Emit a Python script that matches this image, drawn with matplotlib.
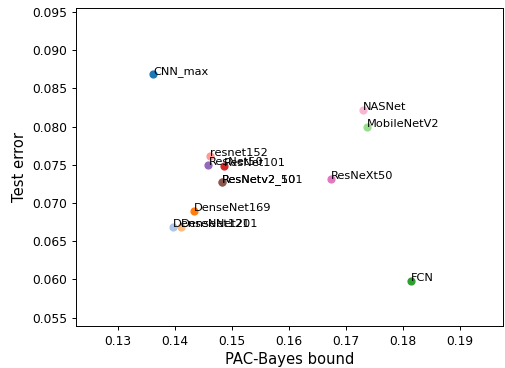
import numpy as np
import matplotlib.pyplot as plt

# PAC-Bayes bound vs. test error for each trained network
models = ["CNN_max", "DenseNet121", "DenseNet169", "DenseNet201", "FCN",
          "MobileNetV2", "ResNet101", "resnet152", "ResNet50",
          "ResNetv2_101", "ResNetv2_50", "ResNeXt50", "NASNet"]
bound = [0.1362, 0.1397, 0.1434, 0.1411, 0.1813,
         0.1736, 0.1486, 0.1461, 0.1459,
         0.1482, 0.1482, 0.1674, 0.1729]
test_err = [0.0869, 0.0669, 0.0690, 0.0668, 0.0598,
            0.0800, 0.0748, 0.0761, 0.0750,
            0.0728, 0.0728, 0.0732, 0.0822]
colors = ["#1f77b4", "#aec7e8", "#ff7f0e", "#ffbb78", "#2ca02c",
          "#98df8a", "#d62728", "#ff9896", "#9467bd",
          "#c49c94", "#8c564b", "#e377c2", "#f7b6d2"]

xt = np.arange(0.13, 0.195, 0.01)
yt = np.arange(0.055, 0.0951, 0.005)

fig = plt.figure(figsize=(5.05, 3.68), dpi=100)
ax = fig.add_axes([0.1505, 0.114, 0.8455, 0.864])

for name, x, y, c in zip(models, bound, test_err, colors):
    ax.scatter(x, y, s=24, color=c, zorder=2)
    ax.text(x, y, name, fontsize=8.2, zorder=3)

ax.set_xlim(0.1227, 0.1975)
ax.set_ylim(0.0539, 0.0955)
ax.set_xticks(xt)
ax.set_yticks(yt)
ax.set_xticklabels(["%.2f" % v for v in xt])
ax.set_yticklabels(["%.3f" % v for v in yt])
ax.tick_params(labelsize=8.85, length=3.1, width=0.7, pad=3.1)
for s in ax.spines.values():
    s.set_linewidth(0.7)
ax.set_xlabel("PAC-Bayes bound", fontsize=10.6, labelpad=3.0)
ax.set_ylabel("Test error", fontsize=10.6, labelpad=3.5)

fig.savefig("out.png", dpi=100)
